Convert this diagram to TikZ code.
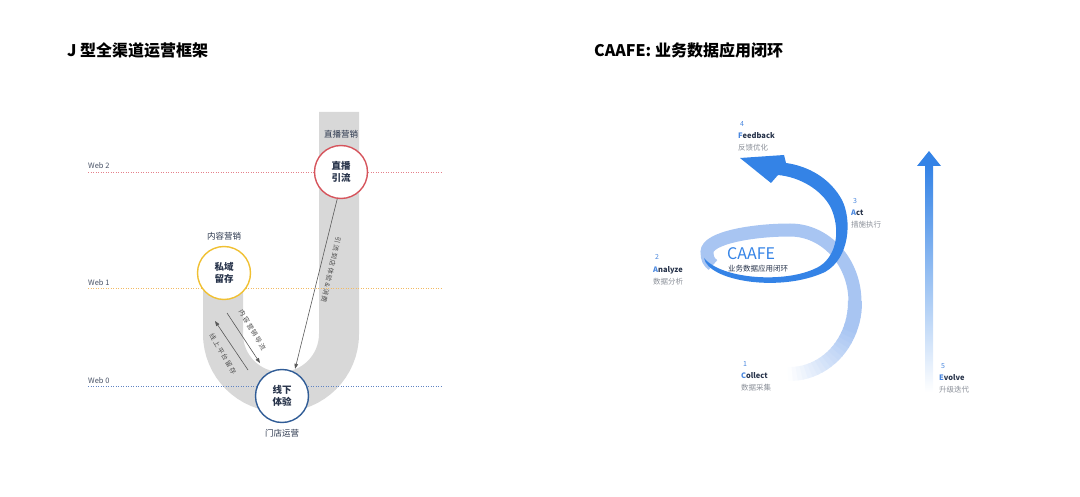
\documentclass[tikz,border=0pt]{standalone}
\usepackage{fontspec}
\setmainfont{Noto Sans CJK SC}
\usetikzlibrary{arrows.meta,positioning,calc}
\definecolor{webred}{RGB}{228,128,138}
\definecolor{weborange}{RGB}{242,186,100}
\definecolor{webblue}{RGB}{96,132,196}
\definecolor{jgray}{RGB}{216,216,216}
\definecolor{ringred}{RGB}{214,84,92}
\definecolor{ringyellow}{RGB}{240,192,50}
\definecolor{ringblue}{RGB}{48,92,150}
\definecolor{navy}{RGB}{40,52,75}
\definecolor{stepgray}{RGB}{138,143,152}
\definecolor{caablue}{RGB}{52,131,230}
\definecolor{caalight}{RGB}{168,197,242}
\definecolor{numblue}{RGB}{72,134,222}

\tikzset{
  webline/.style={line width=1pt, dash pattern=on 1.2pt off 1.3pt},
  weblabel/.style={anchor=west, inner sep=0pt, font=\fontsize{7.5}{9}\selectfont, text=navy!85},
  stage/.style={circle, draw, line width=1.4pt, fill=white, minimum size=53pt, inner sep=0pt,
    align=center, font=\fontsize{9.5}{11.5}\selectfont\bfseries, text=navy},
  tag/.style={inner sep=0pt, font=\fontsize{8.5}{10}\selectfont, text=navy},
  flow/.style={draw=black!65, line width=0.6pt, -{Triangle[length=5pt,width=3.6pt]}},
  flowtext/.style={inner sep=0pt, text=black!70,
    font=\fontsize{6.5}{7}\selectfont\addfontfeature{LetterSpace=20}},
  stepnum/.style={anchor=west, inner sep=0pt, font=\fontsize{7}{8}\selectfont, text=numblue},
  stepname/.style={anchor=west, inner sep=0pt, font=\fontsize{7.5}{9}\selectfont\bfseries, text=navy},
  stepcn/.style={anchor=west, inner sep=0pt, font=\fontsize{7.5}{9}\selectfont, text=stepgray},
  heading/.style={anchor=west, inner sep=0pt, font=\fontsize{16}{19}\selectfont\bfseries, text=black},
}

\begin{document}
\begin{tikzpicture}[x=1pt, y=-1pt]
  \useasboundingbox (0,0) rectangle (1080,497);
  % Titles
  \node[heading] (jtitle) at (67,50) {J 型全渠道运营框架};
  \node[heading] (ctitle) at (594,50) {CAAFE: 业务数据应用闭环};

  % J shaped channel
  \draw[jgray, line width=40pt] (223,273) -- (223,334)
    arc[start angle=180, end angle=0, radius=58] -- (339,112);
  % Web levels
  \draw[webline, webred] (88,173) -- (442,173);
  \node[weblabel] (web2) at (88,166) {Web 2};
  \draw[webline, weborange] (88,289) -- (442,289);
  \node[weblabel] (web1) at (88,283) {Web 1};
  \draw[webline, webblue] (88,386) -- (442,386);
  \node[weblabel] (web0) at (88,381) {Web 0};
  % Stages
  \node[stage, draw=ringred] (zhibo) at (341,172) {直播\\引流};
  \node[stage, draw=ringyellow] (siyu) at (224,273) {私域\\留存};
  \node[stage, draw=ringblue] (xianxia) at (282,396) {线下\\体验};
  \node[tag, above=6pt of zhibo] (zhibotag) {直播营销};
  \node[tag, above=5.5pt of siyu] (siyutag) {内容营销};
  \node[tag, below=5.5pt of xianxia] (xianxiatag) {门店运营};
  % Flows
  \draw[flow, shorten >=3pt] (zhibo.262) -- (xianxia.63);
  \node[flowtext, rotate=-103] (yinliu) at (331,270) {引流到店体验\&消费};
  \coordinate (nr1) at (227,313);
  \coordinate (nr2) at (260,363);
  \draw[flow] (nr1) -- (nr2);
  \node[flowtext, rotate=-59] (neirong) at (252.5,330) {内容营销导流};
  \coordinate (xs1) at (248,370);
  \coordinate (xs2) at (215,321);
  \draw[flow] (xs1) -- (xs2);
  \node[flowtext, rotate=-59] (xianshang) at (223,354) {线上平台留存};

  % Back strand of the loop, fading out at the start
  \foreach \a in {92,88,...,4} {
    \pgfmathtruncatemacro\p{min(100,(94-\a)*1.45)}
    \draw[caalight!\p!white, line width=14pt] (790,302) ++(\a:65 and 72)
      arc[start angle=\a, end angle=\a-5, x radius=65, y radius=72];
  }
  \draw[caalight, line width=13pt] (790,302) ++(0:65 and 72)
    arc[start angle=0, end angle=-90, x radius=65, y radius=72]
    .. controls (752,230) and (707,238) .. (707,252)
    .. controls (707,259) and (709,262) .. (713,265);
  % Front strand with arrow head
  \fill[caablue] (704,258) .. controls (708,281) and (780,293) .. (825,272)
    .. controls (850,258) and (852,220) .. (842,200)
    .. controls (830,178) and (808,166) .. (786,163)
    -- (784,155) -- (740,158) -- (771,183) -- (778,175)
    .. controls (800,177) and (822,190) .. (831,208)
    .. controls (840,228) and (838,254) .. (820,266)
    .. controls (790,284) and (722,280) .. (704,258) -- cycle;
  \node[anchor=west, inner sep=0pt, font=\fontsize{16}{19}\selectfont, text=caablue] (caafe) at (727,254) {CAAFE};
  \node[anchor=west, inner sep=0pt, font=\fontsize{7.5}{9}\selectfont, text=navy] (caafesub) at (728,269) {业务数据应用闭环};

  % Evolve arrow
  \shade[top color=caablue, middle color=caablue!60!white, bottom color=white] (925,166) rectangle (933,392);
  \fill[caablue] (917,166) -- (929,151) -- (941,166) -- cycle;

  % Steps
  \node[stepnum] (num1) at (743,364) {1};
  \node[stepname] (name1) at (741,376) {\textcolor{numblue}{C}ollect};
  \node[stepcn] (cn1) at (741,388) {数据采集};
  \node[stepnum] (num2) at (655,257) {2};
  \node[stepname] (name2) at (653,270) {\textcolor{numblue}{A}nalyze};
  \node[stepcn] (cn2) at (653,282) {数据分析};
  \node[stepnum] (num3) at (853,201) {3};
  \node[stepname] (name3) at (851,213) {\textcolor{numblue}{A}ct};
  \node[stepcn] (cn3) at (851,225) {措施执行};
  \node[stepnum] (num4) at (740,124) {4};
  \node[stepname] (name4) at (738,136) {\textcolor{numblue}{F}eedback};
  \node[stepcn] (cn4) at (738,148) {反馈优化};
  \node[stepnum] (num5) at (941,366) {5};
  \node[stepname] (name5) at (939,378) {\textcolor{numblue}{E}volve};
  \node[stepcn] (cn5) at (939,390) {升级迭代};
\end{tikzpicture}
\end{document}
